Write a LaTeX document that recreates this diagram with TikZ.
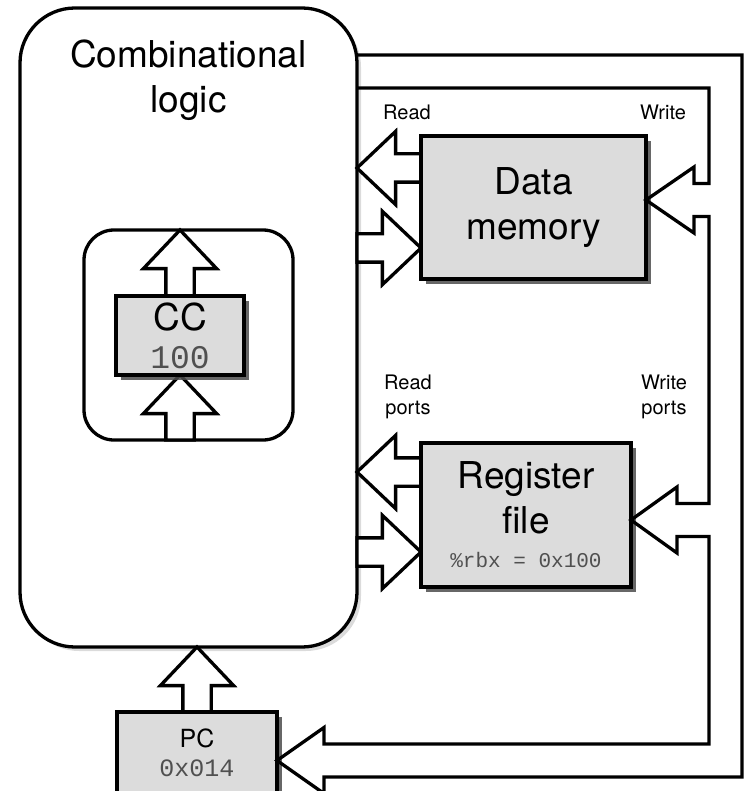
\documentclass[tikz,border=0pt]{standalone}
\usepackage{fontspec}
\setmainfont{TeX Gyre Heros}
\setmonofont{Liberation Mono}
\usepackage{xcolor}
\usetikzlibrary{shapes.arrows, shadows}
\definecolor{unitfill}{HTML}{DCDCDC}
\definecolor{valgray}{HTML}{505050}
\newcommand{\regval}{\ttfamily\color{valgray}}

\begin{document}
\begin{tikzpicture}[x=1pt, y=-1pt,
  every node/.style={outer sep=0pt},
  logicbox/.style={draw, line width=3.3pt, fill=white, inner sep=0pt},
  unit/.style={draw, line width=3.3pt, fill=unitfill, inner sep=0pt, align=center,
    drop shadow={shadow xshift=5pt, shadow yshift=-5pt, fill=black!70, opacity=.85}},
  bus/.style={draw, line width=3.3pt, fill=white, single arrow, inner xsep=0pt, inner ysep=12.5pt,
    single arrow head extend=22.5pt, single arrow tip angle=87},
  feedback/.style={line width=3.3pt, line join=miter},
  bigtxt/.style={font=\fontsize{37}{45}\selectfont, align=center},
  smalltxt/.style={font=\fontsize{20}{25}\selectfont, align=center}
]
\useasboundingbox (0,0) rectangle (745,791);
\clip (0,0) rectangle (745,791);

% combinational logic
\node[logicbox, rounded corners=55pt, minimum width=337pt, minimum height=639pt,
  drop shadow={shadow xshift=4pt, shadow yshift=-4pt, fill=black!40, opacity=.35}]
  (comb) at (188.5,327.5) {};
\node[bigtxt] (combtitle) at (188.5,80) {Combinational\\logic};

% condition codes
\node[logicbox, rounded corners=30pt, minimum width=209pt, minimum height=210pt]
  (ccwrap) at (188.5,335) {};
\node[bus, rotate=90, minimum height=66pt, anchor=tip] (ccout) at (180,230) {};
\node[bus, rotate=90, minimum height=65pt, anchor=tip] (ccin) at (180,375) {};
\node[unit, minimum width=128pt, minimum height=79pt, font=\fontsize{37}{45}\selectfont]
  (cc) at (180,335.5) {CC\\[-7pt]{\fontsize{33}{38}\selectfont\regval 100}};

% data memory
\node[bus, rotate=180, minimum height=64pt, anchor=tip] (dmread) at (comb.east |- 0,168) {};
\node[bus, minimum height=64pt, anchor=tip] (dmaddr) at (421,248) {};
\node[unit, bigtxt, minimum width=225pt, minimum height=143pt] (dm) at (533.5,207.5) {Data\\memory};
\node[smalltxt] (dmrdlbl) at (407,112) {Read};
\node[smalltxt] (dmwrlbl) at (663,112) {Write};

% register file
\node[bus, rotate=180, minimum height=64pt, anchor=tip] (rfread) at (comb.east |- 0,472) {};
\node[bus, minimum height=64pt, anchor=tip] (rfaddr) at (421,552) {};
\node[unit, bigtxt, minimum width=210pt, minimum height=144pt] (rf) at (526,515)
  {Register\\file\\[-11pt]{\fontsize{21}{25}\selectfont\regval\%rbx = 0x100}};
\node[smalltxt] (rfrdlbl) at (408,397) {Read\\ports};
\node[smalltxt] (rfwrlbl) at (664,397) {Write\\ports};

% program counter
\node[bus, rotate=90, minimum height=65pt, anchor=tip] (pcout) at (197,647) {};
\node[unit, minimum width=160pt, minimum height=82pt, font=\fontsize{25}{29}\selectfont]
  (pc) at (197,753) {PC\\{\regval 0x014}};

% write-back bus
\draw[feedback] (comb.east |- 0,55) -- (742,55) -- (742,777) -- (324,777)
  -- (324,793.5) -- (pc.east |- 0,760.5) -- (324,727.5) -- (324,744)
  -- (709,744) -- (709,536.5) -- (677,536.5) -- (677,553)
  -- (rf.east |- 0,520) -- (677,487) -- (677,503.5) -- (709,503.5)
  -- (709,216.5) -- (694,216.5) -- (694,233) -- (dm.east |- 0,200)
  -- (694,167) -- (694,183.5) -- (709,183.5) -- (709,88) -- (comb.east |- 0,88);
\end{tikzpicture}
\end{document}
